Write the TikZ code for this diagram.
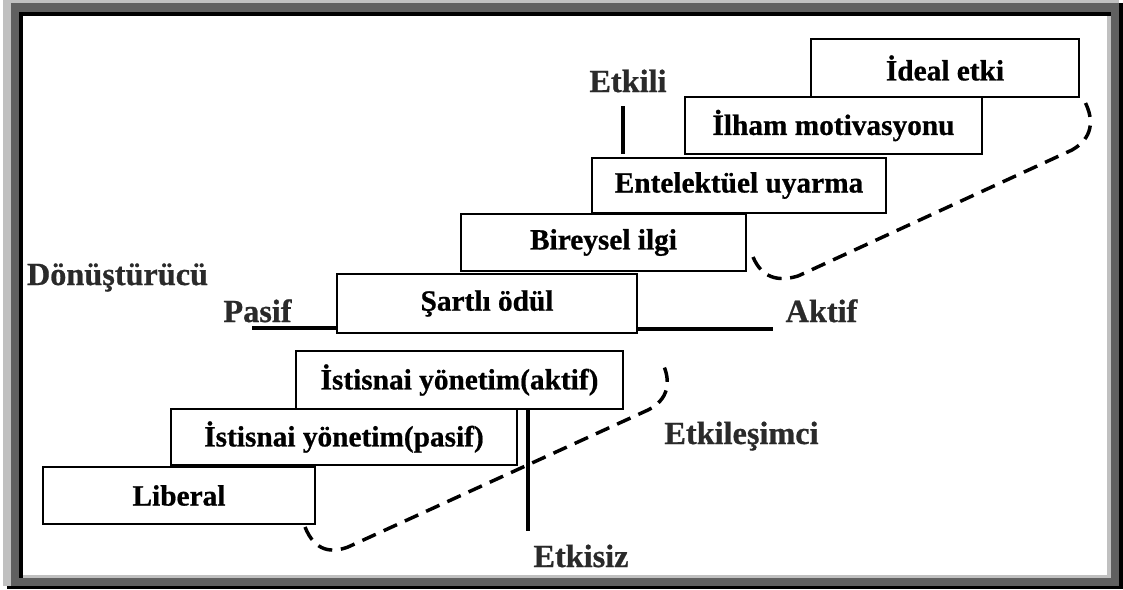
\documentclass[tikz,border=0pt]{standalone}
\usepackage{fontspec}
\setmainfont{Liberation Serif}[BoldFeatures={FakeBold=0.7}]
\definecolor{frameLight}{HTML}{C0C0C0}
\definecolor{frameDark}{HTML}{606060}
\definecolor{labelInk}{HTML}{2A2A2A}
\begin{document}
\begin{tikzpicture}[x=0.75pt,y=-0.75pt,
  stage/.style={draw=black,line width=1.2pt,fill=white,inner sep=0pt,outer sep=0pt,
    font=\fontsize{22pt}{25pt}\selectfont\bfseries},
  axislabel/.style={anchor=base,inner sep=0pt,text=labelInk,
    font=\fontsize{24.2pt}{27pt}\selectfont\bfseries},
  axisline/.style={line width=3pt},
  zone/.style={line width=2.6pt,dash pattern=on 11pt off 6.5pt}]
\useasboundingbox (0,0) rectangle (1123,589);

% shadowed frame
\fill[black] (7,3) rectangle (1123,589);
\fill[frameLight] (3,0) rectangle (1119,586);
\fill[frameDark] (11,3) rectangle (1119,586);
\fill[black] (19,12) rectangle (1111,578);
\fill[frameLight] (23,16) rectangle (1111,578);
\fill[white] (23,16) rectangle (1107,575);

% leadership stages
\node[stage,minimum width=204pt,minimum height=42.75pt] (lib) at (179,495.5) {Liberal};
\node[stage,minimum width=259.5pt,minimum height=42pt] (exp) at (344,437) {İstisnai yönetim(pasif)};
\node[stage,minimum width=245.25pt,minimum height=43.5pt] (exa) at (459.5,380) {İstisnai yönetim(aktif)};
\node[stage,minimum width=225pt,minimum height=44.25pt] (sod) at (487,303.5) {Şartlı ödül};
\node[stage,minimum width=213.75pt,minimum height=42.75pt] (bir) at (603.5,242.5) {Bireysel ilgi};
\node[stage,minimum width=220.5pt,minimum height=41.25pt] (ent) at (739,185.5) {Entelektüel uyarma};
\node[stage,minimum width=222.75pt,minimum height=42.75pt] (ilh) at (833.5,125.5) {İlham motivasyonu};
\node[stage,minimum width=201pt,minimum height=43.5pt] (ide) at (945,68) {İdeal etki};

% axes
\coordinate (pl) at (252,328);
\coordinate (ar) at (773,329);
\coordinate (et) at (623,106);
\coordinate (ez) at (528,531);
\draw[axisline] (pl) -- (pl -| sod.west);
\draw[axisline] (ar -| sod.east) -- (ar);
\draw[axisline] (et) -- (et |- ilh.south);
\draw[axisline] (ez |- exa.south) -- (ez);

% axis labels
\node[axislabel] (lEtkili) at (628,92) {Etkili};
\node[axislabel] (lDon) at (117.5,285) {Dönüştürücü};
\node[axislabel] (lPasif) at (257.5,322) {Pasif};
\node[axislabel] (lAktif) at (821.5,322) {Aktif};
\node[axislabel] (lEtk) at (741.5,444) {Etkileşimci};
\node[axislabel] (lEtkisiz) at (581,567) {Etkisiz};

% dashed zones
\coordinate (t1) at (305,527);
\coordinate (t2) at (662,362);
\draw[zone] (t1) .. controls (315,552) and (332,553) .. (348,547)
  -- (648,410) .. controls (668,400) and (672,382) .. (t2);
\coordinate (u1) at (753,257);
\coordinate (u2) at (1085,102);
\draw[zone] (u1) .. controls (762,278) and (778,282) .. (798,276)
  -- (1072,150) .. controls (1093,138) and (1094,120) .. (u2);
\end{tikzpicture}
\end{document}
